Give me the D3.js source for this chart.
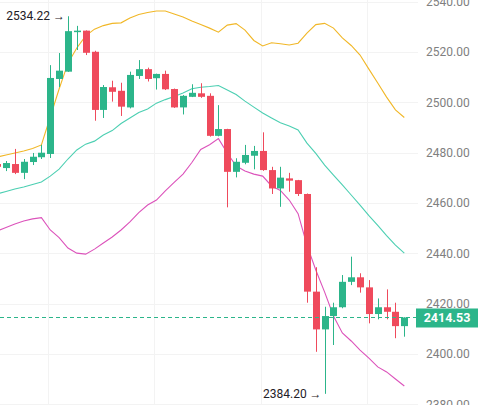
<!DOCTYPE html>
<html lang="en">
<head>
<meta charset="utf-8">
<script src="https://cdn.jsdelivr.net/npm/d3@7/dist/d3.min.js"></script>
<style>
  html, body { margin: 0; padding: 0; background: #fff; overflow: hidden; }
  svg { display: block; font-family: Roboto, "Noto Sans", sans-serif; }
</style>
</head>
<title>Candles</title>
<body>
<script>

  // candles, left to right (first one is cut by the left edge)
  var open  = [2475.5, 2473.9, 2475.5, 2472.0, 2476.3, 2478.2, 2479.5, 2509.3, 2512.2, 2527.9,
               2528.5, 2520.1, 2497.0, 2506.0, 2504.6, 2498.0, 2510.5, 2513.2, 2509.6, 2511.3,
               2505.3, 2498.0, 2502.2, 2503.6, 2502.6, 2486.7, 2489.4, 2472.4, 2476.0, 2478.8,
               2480.7, 2473.1, 2465.8, 2469.8, 2469.1, 2463.6, 2424.8, 2409.8, 2415.1, 2418.6,
               2428.7, 2430.5, 2426.5, 2415.9, 2418.6, 2416.8, 2411.1];
  var high  = [2476.2, 2476.7, 2481.5, 2477.5, 2479.9, 2483.1, 2514.8, 2519.6, 2534.22, 2530.4,
               2528.6, 2520.5, 2506.9, 2508.6, 2507.8, 2512.2, 2516.8, 2513.8, 2511.4, 2512.6,
               2505.5, 2502.9, 2507.2, 2507.6, 2503.6, 2498.9, 2489.5, 2477.8, 2483.1, 2482.7,
               2488.1, 2474.4, 2474.4, 2472.0, 2469.2, 2463.8, 2434.5, 2418.8, 2420.4, 2431.4,
               2438.7, 2432.1, 2429.4, 2422.1, 2425.7, 2420.4, 2414.6];
  var low   = [2473.6, 2472.7, 2471.5, 2469.5, 2475.1, 2477.5, 2477.9, 2506.1, 2512.1, 2520.8,
               2518.8, 2492.7, 2493.8, 2500.3, 2494.6, 2497.6, 2509.3, 2508.3, 2505.1, 2504.9,
               2497.8, 2495.2, 2502.1, 2501.8, 2486.4, 2486.5, 2458.3, 2470.2, 2475.4, 2473.4,
               2472.8, 2463.6, 2458.5, 2464.5, 2462.8, 2420.4, 2400.9, 2384.2, 2403.6, 2418.2,
               2427.4, 2424.4, 2412.2, 2413.8, 2413.8, 2406.3, 2406.9];
  var close = [2474.4, 2475.9, 2472.0, 2476.4, 2478.4, 2480.0, 2509.7, 2512.6, 2528.3, 2528.5,
               2519.7, 2497.0, 2506.1, 2504.2, 2498.3, 2510.9, 2513.2, 2509.3, 2511.3, 2505.2,
               2498.0, 2502.6, 2503.8, 2502.2, 2486.7, 2489.4, 2472.4, 2476.4, 2479.1, 2480.7,
               2473.1, 2465.8, 2470.1, 2468.9, 2463.6, 2424.8, 2409.8, 2415.1, 2418.6, 2428.7,
               2430.5, 2426.5, 2415.9, 2418.6, 2416.8, 2411.1, 2414.53];

  // bollinger bands
  var upper  = [2478.3, 2479.1, 2479.9, 2480.7, 2481.7, 2483.1, 2494.2, 2505.3, 2515.6, 2521.6,
                2526.4, 2529.1, 2530.5, 2531.4, 2531.6, 2533.5, 2534.9, 2535.7, 2536.3, 2536.3,
                2535.1, 2533.9, 2532.3, 2530.9, 2529.5, 2527.9, 2530.7, 2531.3, 2528.7, 2524.6,
                2522.4, 2523.7, 2523.3, 2522.8, 2523.5, 2527.5, 2530.9, 2531.4, 2529.5, 2525.6,
                2522.6, 2518.8, 2513.2, 2507.7, 2502.1, 2497.0, 2494.0];
  var middle = [2463.6, 2464.6, 2465.6, 2466.4, 2467.4, 2468.4, 2470.7, 2473.5, 2477.5, 2481.1,
                2483.4, 2484.6, 2487.0, 2488.8, 2491.6, 2493.8, 2496.0, 2497.4, 2499.7, 2501.1,
                2502.3, 2503.7, 2505.4, 2506.0, 2506.3, 2506.7, 2504.9, 2503.1, 2500.5, 2498.1,
                2495.8, 2493.8, 2491.9, 2490.6, 2489.0, 2483.8, 2479.7, 2475.1, 2471.1, 2467.2,
                2463.2, 2459.2, 2455.0, 2451.1, 2447.1, 2443.3, 2440.1];
  var lower  = [2448.9, 2450.3, 2451.7, 2452.9, 2453.7, 2454.2, 2449.3, 2446.3, 2442.1, 2440.1,
                2439.7, 2441.7, 2444.1, 2446.5, 2449.3, 2452.5, 2456.2, 2459.2, 2461.2, 2464.8,
                2468.2, 2471.5, 2476.1, 2481.3, 2483.2, 2485.6, 2479.9, 2474.7, 2472.7, 2471.5,
                2470.7, 2466.8, 2465.0, 2461.2, 2455.8, 2443.3, 2433.4, 2424.6, 2415.1, 2408.4,
                2405.2, 2401.6, 2398.4, 2394.9, 2392.9, 2390.1, 2387.3];

  var yTicks = [2380, 2400, 2420, 2440, 2460, 2480, 2500, 2520, 2540];
  var gridIdx = [6, 18, 30, 42];
  var lastPrice = 2414.53;
  var marks = [{i: 8, v: 2534.22}, {i: 37, v: 2384.20}];

  const w = 480;
  const h = 405;
  const plotRight = 418;
  const green = "#2cb58a";
  const red = "#ef4a5c";
  const n = close.length;

  const x = d3.scaleLinear()
    .domain([0, n - 1])
    .range([-2.85, 404.3]);

  const y = d3.scaleLinear()
    .domain([2380, 2540])
    .range([404.4, 1.7]);

  const svg = d3.select("body")
    .append("svg")
    .attr("width", w)
    .attr("height", h);

  // faint grid
  svg.append("g")
    .selectAll("line")
    .data(yTicks)
    .enter()
    .append("line")
    .attr("x1", 0)
    .attr("x2", plotRight)
    .attr("y1", d => Math.round(y(d)) + 0.5)
    .attr("y2", d => Math.round(y(d)) + 0.5)
    .attr("stroke", "#f3f3f3");

  svg.append("g")
    .selectAll("line")
    .data(gridIdx)
    .enter()
    .append("line")
    .attr("x1", d => Math.round(x(d)) - 1.5)
    .attr("x2", d => Math.round(x(d)) - 1.5)
    .attr("y1", 0)
    .attr("y2", h)
    .attr("stroke", "#f3f3f3");

  // bands
  const idx = d3.range(n);
  function band(arr, color) {
    const line = d3.line()
      .x(i => x(i))
      .y(i => y(arr[i]));
    svg.append("path")
      .datum(idx)
      .attr("d", line)
      .attr("fill", "none")
      .attr("stroke", color)
      .attr("stroke-width", 1.1);
  }
  band(upper, "#f1b727");
  band(middle, "#4ccfb2");
  band(lower, "#dc53bb");

  // candles
  const bodyW = 7;
  const candles = svg.append("g")
    .selectAll("g")
    .data(idx)
    .enter()
    .append("g");

  candles.append("line")
    .attr("x1", i => Math.round(x(i)) + 0.5)
    .attr("x2", i => Math.round(x(i)) + 0.5)
    .attr("y1", i => y(high[i]))
    .attr("y2", i => y(low[i]))
    .attr("stroke", i => close[i] >= open[i] ? green : red)
    .attr("stroke-width", 1);

  candles.append("rect")
    .attr("x", i => Math.round(x(i)) + 0.5 - bodyW / 2)
    .attr("y", i => y(Math.max(open[i], close[i])))
    .attr("width", bodyW)
    .attr("height", i => Math.max(1.2, Math.abs(y(open[i]) - y(close[i]))))
    .attr("fill", i => close[i] >= open[i] ? green : red);

  // last price line
  svg.append("line")
    .attr("x1", 0)
    .attr("x2", plotRight)
    .attr("y1", Math.round(y(lastPrice)) + 0.5)
    .attr("y2", Math.round(y(lastPrice)) + 0.5)
    .attr("stroke", green)
    .attr("stroke-dasharray", "4,3");

  // high / low markers
  svg.append("g")
    .selectAll("text")
    .data(marks)
    .enter()
    .append("text")
    .attr("x", d => x(d.i) - 3)
    .attr("y", d => y(d.v))
    .attr("dy", "0.35em")
    .attr("text-anchor", "end")
    .attr("font-size", 12)
    .attr("fill", "#1e2026")
    .text(d => d.v.toFixed(2) + " \u2192");

  // price axis
  const yAxis = d3.axisRight(y)
    .tickValues(yTicks)
    .tickFormat(d3.format(".2f"))
    .tickSize(0)
    .tickPadding(7);

  const ax = svg.append("g")
    .attr("transform", "translate(" + (plotRight + 1) + ",0)")
    .call(yAxis);
  ax.select(".domain").remove();
  ax.selectAll("text")
    .attr("font-family", "Roboto, sans-serif")
    .attr("font-size", 12)
    .attr("fill", "#808080");

  // last price tag
  const ly = y(lastPrice);
  svg.append("rect")
    .attr("x", 416)
    .attr("y", ly - 9)
    .attr("width", 62)
    .attr("height", 19)
    .attr("fill", green);
  svg.append("text")
    .attr("x", 447)
    .attr("y", ly + 0.5)
    .attr("dy", "0.35em")
    .attr("text-anchor", "middle")
    .attr("font-size", 12.5)
    .attr("font-weight", "bold")
    .attr("fill", "#fff")
    .text(lastPrice.toFixed(2));

</script>
</body>
</html>
